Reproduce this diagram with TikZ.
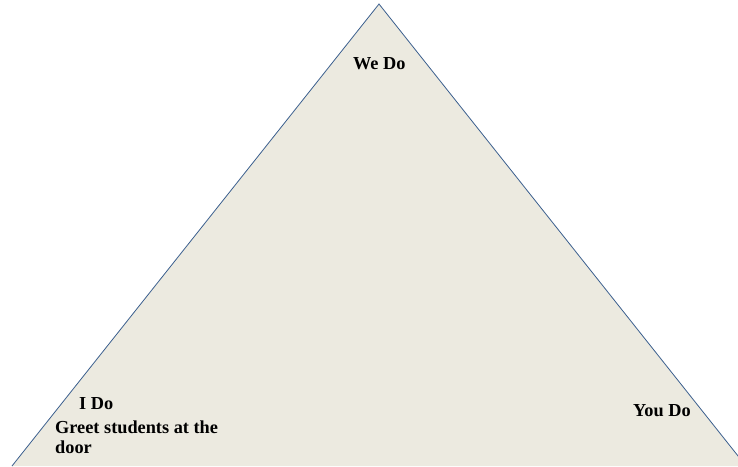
\documentclass[tikz,border=0pt]{standalone}
\usepackage{fontspec}
\setmainfont{Liberation Serif}
\definecolor{fillbeige}{HTML}{ECEAE0}
\definecolor{edgeblue}{HTML}{3B5F8E}
\begin{document}
\begin{tikzpicture}[x=1pt,y=-1pt,
  lbl/.style={anchor=base west,inner sep=0pt,font=\fontsize{18.3}{20}\selectfont\bfseries}]
\useasboundingbox (0,0) rectangle (738,466);
\clip (0,0) rectangle (738,466);
\coordinate (apex) at (379,4);
\coordinate (bl) at (12,466);
\coordinate (br) at (746,466);
\fill[fillbeige] (apex) -- (bl) -- (br) -- cycle;
\draw[edgeblue,line width=0.8pt] (bl) -- (apex) -- (br);
\node[lbl] (we) at (353,69) {We Do};
\node[lbl] (ido) at (79,409) {I Do};
\node[lbl] (greet) at (55,433) {Greet students at the};
\node[lbl] (door) at (55,453) {door};
\node[lbl] (you) at (633,416) {You Do};
\end{tikzpicture}
\end{document}
